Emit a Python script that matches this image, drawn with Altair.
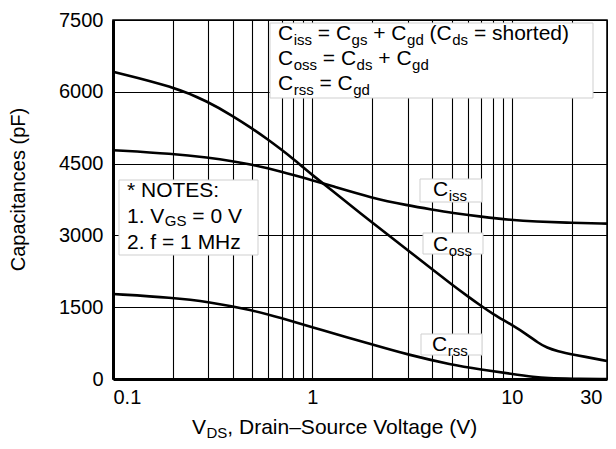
import math
import altair as alt
import pandas as pd

# ---- data ----
ciss_v = [0.1, 0.2, 0.3, 0.4, 0.5, 0.6, 0.7, 0.8, 1.0, 1.2, 2, 3, 4, 5, 7, 10, 13, 20, 30]
ciss = [4780, 4705, 4625, 4550, 4475, 4400, 4330, 4265, 4150, 4055, 3778, 3628, 3538, 3470,
        3390, 3320, 3290, 3262, 3246]
coss_v = [0.1, 0.2, 0.3, 0.4, 0.5, 0.6, 0.7, 0.8, 0.9, 1.0, 1.2, 2, 3, 4, 5, 6, 7, 8, 10,
          12, 13.5, 15, 17, 20, 30]
coss = [6420, 6110, 5795, 5490, 5230, 5000, 4790, 4600, 4420, 4260, 4000, 3262, 2697, 2285,
        1975, 1730, 1530, 1362, 1130, 920, 760, 650, 580, 516, 376]
crss_v = [0.1, 0.2, 0.3, 0.5, 0.7, 1.0, 1.5, 2, 3, 5, 7, 10, 13, 15, 20, 30]
crss = [1775, 1700, 1615, 1440, 1270, 1080, 870, 720, 510, 295, 200, 105, 40, 18, 5, 0]

x_grid = [0.1, 0.2, 0.3, 0.4, 0.5, 0.6, 0.7, 0.8, 0.9, 1, 2, 3, 4, 5, 6, 7, 8, 9, 10, 20, 30]
y_grid = [0, 750, 1500, 2250, 3000, 3750, 4500, 5250, 6000, 6750, 7500]

W, H = 494, 359
FONT = "Liberation Sans"

rows = []
for name, xs, ys in [("Ciss", ciss_v, ciss), ("Coss", coss_v, coss), ("Crss", crss_v, crss)]:
    for a, b in zip(xs, ys):
        rows.append({"series": name, "V": a, "pF": b})
curves = pd.DataFrame(rows)

# ---- annotation layout helpers (pixel -> data) ----
def vx(px):
    return 10 ** (-1 + px / W * math.log10(300))

def py(p):
    return 7500 * (1 - p / H)

CW = {" ": 278, "(": 333, ")": 333, "*": 389, "+": 584, ",": 278, ".": 278, ":": 278,
      "=": 584, "–": 556, "C": 722, "D": 722, "E": 667, "G": 778, "H": 722, "M": 833,
      "N": 722, "O": 778, "S": 667, "T": 611, "V": 667, "a": 556, "c": 500, "d": 556,
      "e": 556, "f": 278, "g": 556, "h": 556, "i": 222, "l": 222, "n": 556, "o": 556,
      "r": 333, "s": 500, "t": 278, "u": 556, "z": 500}
for d in "0123456789":
    CW[d] = 556

def width(s, fs):
    return sum(CW.get(c, 556) for c in s) * fs / 1000.0

def pieces(segs, x0, base, main=21, sub=15, drop=5):
    out = []
    x = x0
    for s, is_sub in segs:
        fs = sub if is_sub else main
        lead = len(s) - len(s.lstrip(" "))
        t = s.strip(" ")
        xt = x + lead * 278 * fs / 1000.0 + (0.5 if is_sub else 0)
        out.append({"V": vx(xt), "pF": py(base + (drop if is_sub else 0)), "txt": t, "fs": fs})
        x += width(s, fs) + (0.5 if is_sub else 0)
    return out

texts = []
texts += pieces([("C", 0), ("iss", 1), (" = C", 0), ("gs", 1), (" + C", 0), ("gd", 1),
                 (" (C", 0), ("ds", 1), (" = shorted)", 0)], 165, 20)
texts += pieces([("C", 0), ("oss", 1), (" = C", 0), ("ds", 1), (" + C", 0), ("gd", 1)], 165, 45)
texts += pieces([("C", 0), ("rss", 1), (" = C", 0), ("gd", 1)], 165, 70)
texts += pieces([("C", 0), ("iss", 1)], 320, 176)
texts += pieces([("C", 0), ("oss", 1)], 320, 231)
texts += pieces([("C", 0), ("rss", 1)], 319, 331)
texts += pieces([("* NOTES:", 0)], 14, 177)
texts += pieces([("1. V", 0), ("GS", 1), (" = 0 V", 0)], 14, 203, drop=3)
texts += pieces([("2. f = 1 MHz", 0)], 14, 229)
texts += pieces([("V", 0), ("DS", 1), (", Drain–Source Voltage (V)", 0)], 79, 414, drop=4)
text_df = pd.DataFrame(texts)

boxes = pd.DataFrame([
    {"V": vx(157), "V2": vx(480), "pF": py(3), "pF2": py(78)},
    {"V": vx(307), "V2": vx(369), "pF": py(159), "pF2": py(182)},
    {"V": vx(310), "V2": vx(370), "pF": py(213), "pF2": py(234)},
    {"V": vx(308), "V2": vx(369), "pF": py(314), "pF2": py(335)},
    {"V": vx(6), "V2": vx(145), "pF": py(160), "pF2": py(235)},
])

xscale = alt.Scale(type="log", domain=[0.1, 30], nice=False)
yscale = alt.Scale(domain=[0, 7500], nice=False, zero=False)

x_axis = alt.Axis(
    values=x_grid, title=None, grid=True, gridColor="#000", gridWidth=1.1,
    ticks=False, labelPadding=8, labelFontSize=20, labelFont=FONT, labelColor="#000",
    labelOverlap=False, labelBound=False,
    labelExpr="datum.value == 0.1 ? '0.1' : datum.value == 1 ? '1' : datum.value == 10 ? '10' : datum.value == 30 ? '30' : ''",
    labelOffset={"condition": {"test": "datum.value >= 30", "value": -5}, "value": 0},
    domainColor="#000", domainWidth=3,
)
y_axis = alt.Axis(
    values=y_grid, format="d", grid=True, gridColor="#000", gridWidth=1.1,
    ticks=False, labelPadding=10, labelFontSize=20, labelFont=FONT, labelColor="#000",
    labelOverlap=False,
    labelExpr="datum.value % 1500 == 0 ? datum.label : ''",
    domainColor="#000", domainWidth=3,
    title="Capacitances (pF)", titleFont=FONT, titleFontSize=20, titleFontWeight="normal",
    titleColor="#000", titleAngle=270, titleX=-95, titleY=169, titleAlign="center",
    titleBaseline="middle",
)

lines = alt.Chart(curves).mark_line(color="#000", strokeWidth=2.6, interpolate="basis").encode(
    x=alt.X("V:Q", scale=xscale, axis=x_axis),
    y=alt.Y("pF:Q", scale=yscale, axis=y_axis),
    detail="series:N",
)

rects = alt.Chart(boxes).mark_rect(fill="#fff", stroke="#cfcfcf", strokeWidth=1).encode(
    x=alt.X("V:Q", scale=xscale), x2="V2:Q",
    y=alt.Y("pF:Q", scale=yscale), y2="pF2:Q",
)

labels = alt.Chart(text_df).mark_text(
    align="left", baseline="alphabetic", font=FONT, color="#000"
).encode(
    x=alt.X("V:Q", scale=xscale),
    y=alt.Y("pF:Q", scale=yscale),
    text="txt:N",
    size=alt.Size("fs:Q", scale=None, legend=None),
)

chart = alt.layer(lines, rects, labels).properties(
    width=W, height=H,
    autosize=alt.AutoSizeParams(type="none"),
    padding={"left": 105, "top": 12, "right": 1, "bottom": 62},
    background="#fff",
).configure_view(stroke="#000", strokeWidth=1.5)

chart.save("out.html", embed_options={"renderer": "svg", "actions": False})
